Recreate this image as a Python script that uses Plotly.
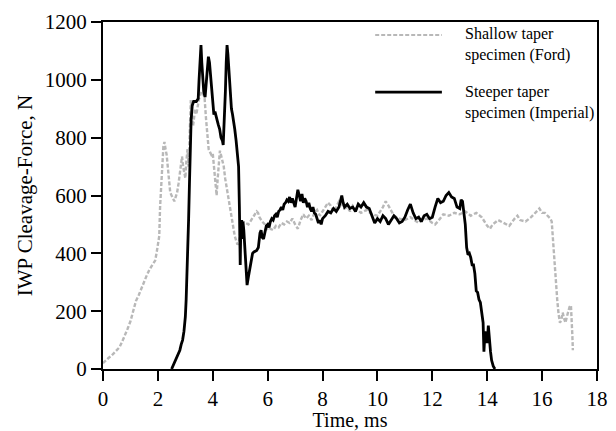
import plotly.graph_objects as go

# Shallow taper specimen (Ford) - time (ms), force (N)
ford_t = [0.00, 0.10, 0.20, 0.30, 0.40, 0.50, 0.60, 0.70, 0.80, 0.90, 1.00, 1.10, 1.20, 1.30, 1.40,
          1.50, 1.60, 1.70, 1.80, 1.90, 1.95, 2.00, 2.05, 2.08, 2.12, 2.16, 2.20, 2.24, 2.28, 2.32,
          2.36, 2.40, 2.45, 2.50, 2.55, 2.60, 2.65, 2.70, 2.75, 2.80, 2.85, 2.88, 2.92, 2.96, 3.00,
          3.04, 3.08, 3.12, 3.16, 3.20, 3.24, 3.28, 3.32, 3.36, 3.40, 3.45, 3.50, 3.55, 3.60, 3.65,
          3.70, 3.75, 3.80, 3.85, 3.90, 3.95, 4.00, 4.05, 4.10, 4.14, 4.18, 4.22, 4.26, 4.30, 4.35,
          4.40, 4.45, 4.50, 4.55, 4.60, 4.65, 4.70, 4.75, 4.80, 4.85, 4.90, 4.95, 5.00, 5.05, 5.10,
          5.20, 5.30, 5.40, 5.50, 5.60, 5.65, 5.70, 5.80, 5.90, 6.00, 6.10, 6.20, 6.30, 6.40, 6.50,
          6.60, 6.70, 6.80, 6.90, 7.00, 7.10, 7.20, 7.30, 7.40, 7.50, 7.60, 7.70, 7.80, 7.90, 8.00,
          8.10, 8.20, 8.30, 8.40, 8.50, 8.60, 8.70, 8.80, 8.90, 9.00, 9.10, 9.20, 9.40, 9.60, 9.80,
          10.0, 10.2, 10.3, 10.4, 10.5, 10.6, 10.8, 11.0, 11.2, 11.4, 11.5, 11.6, 11.8, 12.0, 12.1,
          12.2, 12.4, 12.6, 12.8, 13.0, 13.2, 13.4, 13.6, 13.8, 14.0, 14.1, 14.2, 14.4, 14.6, 14.8,
          15.0, 15.1, 15.2, 15.4, 15.6, 15.8, 15.9, 16.0, 16.1, 16.2, 16.3, 16.35, 16.40, 16.45, 16.50,
          16.55, 16.60, 16.65, 16.70, 16.75, 16.80, 16.85, 16.90, 16.95, 17.00, 17.05, 17.08, 17.10, 17.12]
ford_f = [20, 30, 38, 45, 55, 62, 75, 95, 115, 140, 165, 200, 235, 255, 280,
          300, 325, 345, 360, 375, 400, 430, 460, 560, 660, 700, 770, 785, 760, 740,
          700, 650, 610, 600, 590, 580, 595, 610, 640, 680, 720, 735, 700, 680, 660,
          720, 760, 700, 820, 930, 880, 840, 870, 900, 880, 910, 935, 950, 960, 950,
          940, 870, 800, 760, 750, 740, 745, 700, 640, 600, 660, 720, 755, 740, 720,
          700, 660, 630, 600, 570, 550, 510, 480, 460, 445, 430, 440, 470, 500, 510,
          505, 500, 515, 530, 545, 540, 525, 510, 500, 480, 485, 480, 495, 490, 505,
          500, 510, 505, 520, 500, 485, 515, 535, 520, 530, 515, 540, 550, 530, 545,
          560, 575, 565, 545, 560, 580, 570, 555, 560, 545, 565, 555, 540, 550, 535,
          530, 560, 580, 565, 545, 530, 520, 515, 525, 510, 505, 515, 520, 505, 500,
          510, 535, 530, 540, 535, 545, 530, 540, 525, 495, 485, 500, 515, 505, 495,
          520, 530, 515, 510, 525, 545, 555, 540, 540, 530, 520, 510, 440, 360, 290,
          240, 190, 160, 170, 195, 175, 160, 180, 200, 215, 220, 180, 120, 65]

# Steeper taper specimen (Imperial) - time (ms), force (N)
imp_t = [2.50, 2.55, 2.60, 2.65, 2.70, 2.75, 2.80, 2.85, 2.90, 2.95, 3.00, 3.03, 3.06, 3.09, 3.12,
         3.15, 3.18, 3.21, 3.25, 3.30, 3.40, 3.47, 3.50, 3.54, 3.57, 3.60, 3.63, 3.67, 3.72, 3.76,
         3.80, 3.84, 3.88, 3.92, 3.96, 4.00, 4.04, 4.08, 4.12, 4.16, 4.20, 4.25, 4.30, 4.35, 4.38,
         4.42, 4.46, 4.49, 4.52, 4.55, 4.58, 4.62, 4.65, 4.68, 4.72, 4.76, 4.80, 4.85, 4.90, 4.94,
         4.97, 5.00, 5.02, 5.05, 5.08, 5.10, 5.13, 5.17, 5.21, 5.25, 5.30, 5.36, 5.40, 5.45, 5.50,
         5.60, 5.66, 5.72, 5.76, 5.80, 5.85, 5.90, 5.95, 6.00, 6.05, 6.10, 6.15, 6.20, 6.25, 6.30,
         6.35, 6.40, 6.45, 6.50, 6.55, 6.60, 6.65, 6.70, 6.75, 6.80, 6.85, 6.90, 6.95, 7.00, 7.05,
         7.10, 7.15, 7.20, 7.25, 7.30, 7.35, 7.40, 7.45, 7.50, 7.55, 7.60, 7.65, 7.70, 7.75, 7.80,
         7.85, 7.90, 7.95, 8.00, 8.10, 8.20, 8.30, 8.40, 8.50, 8.60, 8.70, 8.75, 8.80, 8.90, 9.00,
         9.10, 9.20, 9.30, 9.40, 9.50, 9.60, 9.70, 9.80, 9.90, 10.0, 10.1, 10.2, 10.3, 10.4, 10.5,
         10.6, 10.7, 10.8, 10.9, 11.0, 11.1, 11.2, 11.3, 11.4, 11.5, 11.6, 11.7, 11.8, 11.9, 12.0,
         12.1, 12.2, 12.3, 12.4, 12.5, 12.6, 12.7, 12.8, 12.9, 13.0, 13.05, 13.1, 13.15, 13.2, 13.25,
         13.30, 13.35, 13.40, 13.45, 13.50, 13.55, 13.60, 13.65, 13.70, 13.75, 13.80, 13.85, 13.88, 13.92, 13.96,
         14.00, 14.04, 14.08, 14.12, 14.16, 14.22, 14.28]
imp_f = [0, 10, 25, 30, 45, 55, 65, 85, 100, 130, 180, 240, 320, 420, 520,
         640, 760, 860, 910, 925, 925, 935, 1000, 1060, 1120, 1060, 990, 960, 940, 1000,
         1060, 1080, 1060, 1010, 960, 900, 880, 890, 870, 860, 845, 830, 800, 790, 775,
         850, 960, 1060, 1120, 1090, 1040, 1000, 960, 900, 880, 860, 830, 790, 740, 700,
         560, 360, 480, 515, 450, 510, 480, 400, 330, 290, 320, 350, 380, 400, 405,
         410, 420, 470, 480, 455, 450, 480, 495, 500, 490, 510, 520, 515, 530, 535,
         525, 545, 550, 560, 550, 570, 575, 585, 580, 595, 575, 590, 570, 560, 590,
         620, 600, 580, 605, 575, 590, 580, 560, 575, 555, 545, 560, 540, 535, 520,
         505, 515, 500, 520, 530, 545, 540, 555, 545, 560, 600, 575, 560, 570, 555,
         560, 545, 570, 560, 575, 560, 555, 530, 505, 520, 510, 530, 520, 500, 515,
         530, 520, 505, 510, 525, 550, 570, 540, 520, 525, 510, 530, 535, 520, 525,
         560, 590, 575, 580, 600, 610, 595, 590, 560, 555, 585, 580, 540, 500, 420,
         395, 400, 385, 360, 360, 330, 270, 265, 240, 230, 200, 160, 60, 130, 110,
         90, 150, 90, 60, 30, 10, 0]

legend_labels = ["Shallow taper<br>specimen (Ford)", "Steeper taper<br>specimen (Imperial)"]
x_ticks = list(range(0, 19, 2))
y_ticks = list(range(0, 1201, 200))

SERIF = "Liberation Serif"

fig = go.Figure()
fig.add_trace(go.Scatter(x=ford_t, y=ford_f, mode="lines", name="Ford",
                         line=dict(color="#b8b8b8", width=2.4, dash="4px,2px"),
                         showlegend=False))
fig.add_trace(go.Scatter(x=imp_t, y=imp_f, mode="lines", name="Imperial",
                         line=dict(color="black", width=2.8),
                         showlegend=False))

# Legend drawn manually to match the reference layout
fig.add_shape(type="line", xref="paper", yref="paper", x0=0.551, x1=0.686, y0=0.9625, y1=0.9625,
              line=dict(color="#b8b8b8", width=2, dash="4px,2px"))
fig.add_shape(type="line", xref="paper", yref="paper", x0=0.551, x1=0.686, y0=0.798, y1=0.798,
              line=dict(color="black", width=2.8))
fig.add_annotation(xref="paper", yref="paper", x=0.729, y=0.935, text=legend_labels[0],
                   showarrow=False, xanchor="left", yanchor="middle", align="left",
                   font=dict(family=SERIF, size=16, color="black"))
fig.add_annotation(xref="paper", yref="paper", x=0.729, y=0.768, text=legend_labels[1],
                   showarrow=False, xanchor="left", yanchor="middle", align="left",
                   font=dict(family=SERIF, size=16, color="black"))

axis_common = dict(showline=True, linecolor="black", linewidth=2.2, mirror=True,
                   ticks="outside", ticklen=10, tickwidth=2, tickcolor="black",
                   showgrid=False, zeroline=False, automargin=False,
                   tickfont=dict(family=SERIF, size=21, color="black"))

# The page body has an 8px margin, so the figure is sized 8px smaller to fit the window
fig.update_layout(
    width=608, height=423,
    margin=dict(l=95, r=19, t=14, b=62),
    paper_bgcolor="white", plot_bgcolor="white",
    xaxis=dict(range=[0, 18], tickvals=x_ticks,
               title=dict(text="Time, ms", font=dict(family=SERIF, size=20, color="black"), standoff=9),
               **axis_common),
    yaxis=dict(range=[0, 1200], tickvals=y_ticks,
               title=dict(text="IWP Cleavage-Force, N", font=dict(family=SERIF, size=21, color="black"), standoff=6),
               **axis_common),
)

fig.write_html("out.html")
